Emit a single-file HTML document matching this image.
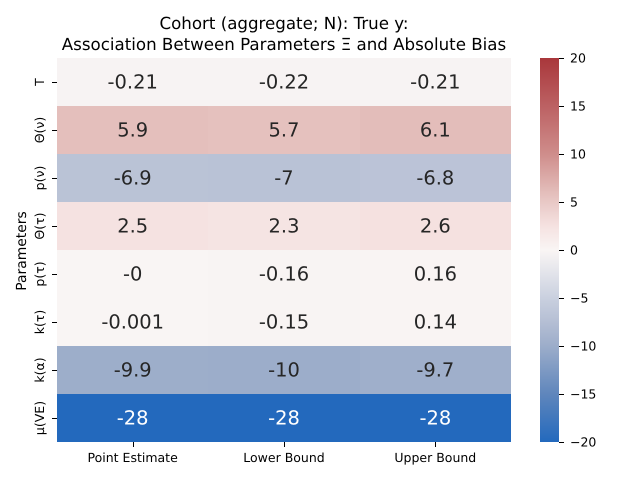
<!DOCTYPE html>
<html lang="en">
<head>
<meta charset="utf-8">
<title>Association Between Parameters and Absolute Bias</title>
<style>
html,body{margin:0;padding:0;background:#fff;}
svg{display:block;font-family:"DejaVu Sans","Liberation Sans",sans-serif;}
</style>
</head>
<body>
<svg id="chart" xmlns="http://www.w3.org/2000/svg" width="640" height="480" viewBox="0 0 640 480" shape-rendering="crispEdges">
  <rect x="0" y="0" width="640" height="480" fill="#ffffff"/>
  <g text-rendering="geometricPrecision" fill="#000" font-size="16.67px" text-anchor="middle">
    <text x="284" y="29">Cohort (aggregate; N): True y:</text>
    <text x="284" y="50">Association Between Parameters Ξ and Absolute Bias</text>
  </g>
  <text x="0" y="0" transform="translate(26 251) rotate(-90)" text-anchor="middle" font-size="13.89px" text-rendering="geometricPrecision" fill="#000">Parameters</text>
  <g id="cells"></g>
  <g id="annotations"></g>
  <g id="x-axis"></g>
  <g id="y-axis"></g>
  <g id="colorbar"></g>
</svg>
<script>
const rowLabels = ['T', 'Θ(ν)', 'p(ν)', 'Θ(τ)', 'p(τ)', 'k(τ)', 'k(α)', 'μ(VE)'];
const colLabels = ['Point Estimate', 'Lower Bound', 'Upper Bound'];
const pointEstimate = [-0.21, 5.9, -6.9, 2.5, -0.0004, -0.001, -9.9, -28];
const lowerBound = [-0.22, 5.7, -7, 2.3, -0.16, -0.15, -10, -28];
const upperBound = [-0.21, 6.1, -6.8, 2.6, 0.16, 0.14, -9.7, -28];
const pointLabels = ['-0.21', '5.9', '-6.9', '2.5', '-0', '-0.001', '-9.9', '-28'];
const lowerLabels = ['-0.22', '5.7', '-7', '2.3', '-0.16', '-0.15', '-10', '-28'];
const upperLabels = ['-0.21', '6.1', '-6.8', '2.6', '0.16', '0.14', '-9.7', '-28'];
const colorbarTicks = [20, 15, 10, 5, 0, -5, -10, -15, -20];
const colorDomain = [-20, -15, -10, -7, -5, -2.5, 0, 2.5, 5.9, 10, 15, 20];
const colorRange = ['#2369bd', '#5f86bc', '#9cadca', '#b9c2d6', '#c9d0df', '#e2e3ea', '#f9f5f4', '#f5e2e1', '#e4bfbc', '#cf8d8b', '#bc6163', '#a9373b'];

const NS = 'http://www.w3.org/2000/svg';
const plot = { left: 57, right: 511, top: 58, bottom: 442 };
const bar = { left: 540, right: 559, top: 58, bottom: 442, min: -20, max: 20 };

function make(tag, attrs, parent, text) {
  const el = document.createElementNS(NS, tag);
  for (const k in attrs) el.setAttribute(k, attrs[k]);
  if (text !== undefined) el.textContent = text;
  parent.appendChild(el);
  return el;
}
function xBand(i) { return plot.left + (plot.right - plot.left) * i / colLabels.length; }
function yBand(i) { return plot.top + (plot.bottom - plot.top) * i / rowLabels.length; }
function yBar(v) { return bar.bottom - (v - bar.min) / (bar.max - bar.min) * (bar.bottom - bar.top); }
function hexRgb(h) { return [1, 3, 5].map(function (p) { return parseInt(h.substr(p, 2), 16); }); }
function colorRgb(v) {
  const c = Math.max(bar.min, Math.min(bar.max, v));
  let i = 0;
  while (i < colorDomain.length - 2 && c > colorDomain[i + 1]) i++;
  const t = (c - colorDomain[i]) / (colorDomain[i + 1] - colorDomain[i]);
  const a = hexRgb(colorRange[i]);
  const b = hexRgb(colorRange[i + 1]);
  return a.map(function (x, k) { return Math.round(x + (b[k] - x) * t); });
}
function color(v) { return 'rgb(' + colorRgb(v).join(',') + ')'; }
function luminance(v) {
  const c = colorRgb(v).map(function (x) {
    const s = x / 255;
    return s <= 0.03928 ? s / 12.92 : Math.pow((s + 0.055) / 1.055, 2.4);
  });
  return 0.2126 * c[0] + 0.7152 * c[1] + 0.0722 * c[2];
}

const seriesValues = [pointEstimate, lowerBound, upperBound];
const seriesLabels = [pointLabels, lowerLabels, upperLabels];
const cells = document.getElementById('cells');
const annotations = document.getElementById('annotations');
const xAxis = document.getElementById('x-axis');
const yAxis = document.getElementById('y-axis');
const colorbar = document.getElementById('colorbar');

seriesValues.forEach(function (values, c) {
  values.forEach(function (v, r) {
    const x0 = Math.round(xBand(c));
    const x1 = Math.round(xBand(c + 1));
    const y0 = Math.round(yBand(r));
    const y1 = Math.round(yBand(r + 1));
    const rect = make('rect', { x: x0, y: y0, width: x1 - x0, height: y1 - y0, fill: color(v) }, cells);
    
    
    const t = make('text', {
      x: xBand(c + 0.5),
      y: yBand(r + 0.5) + 6.6,
      'text-anchor': 'middle',
      'font-size': '19.44px',
      'text-rendering': 'geometricPrecision',
      fill: luminance(v) < 0.408 ? '#ffffff' : '#262626'
    }, annotations, seriesLabels[c][r]);
    
    
  });
});

colLabels.forEach(function (label, i) {
  const x = Math.round(xBand(i + 0.5));
  const tick = make('rect', { x: x, y: plot.bottom, width: 1, height: 5, fill: '#000' }, xAxis);
  
  
  const t = make('text', { x: xBand(i + 0.5), y: 462, 'text-anchor': 'middle', 'font-size': '12.5px', 'text-rendering': 'geometricPrecision', fill: '#000' }, xAxis, label);
  
  
});

rowLabels.forEach(function (label, i) {
  const y = Math.round(yBand(i + 0.5));
  const tick = make('rect', { x: plot.left - 5, y: y, width: 5, height: 1, fill: '#000' }, yAxis);
  
  
  const t = make('text', { transform: 'translate(44 ' + yBand(i + 0.5) + ') rotate(-90)', 'text-anchor': 'middle', 'font-size': '12.5px', 'text-rendering': 'geometricPrecision', fill: '#000' }, yAxis, label);
  
  
});

for (let py = bar.top; py < bar.bottom; py++) {
  const v = bar.max - (py + 0.5 - bar.top) / (bar.bottom - bar.top) * (bar.max - bar.min);
  const strip = make('rect', { x: bar.left, y: py, width: bar.right - bar.left, height: 1, fill: color(v) }, colorbar);
  
  
}
colorbarTicks.forEach(function (v) {
  const y = Math.min(Math.round(yBar(v)), bar.bottom);
  const tick = make('rect', { x: bar.right, y: y, width: 5, height: 1, fill: '#000' }, colorbar);
  
  
  const t = make('text', { x: 570, y: yBar(v) + 4.7, 'font-size': '12.5px', 'text-rendering': 'geometricPrecision', fill: '#000' }, colorbar, String(v).replace('-', '−'));
  
  
});
</script>
</body>
</html>
